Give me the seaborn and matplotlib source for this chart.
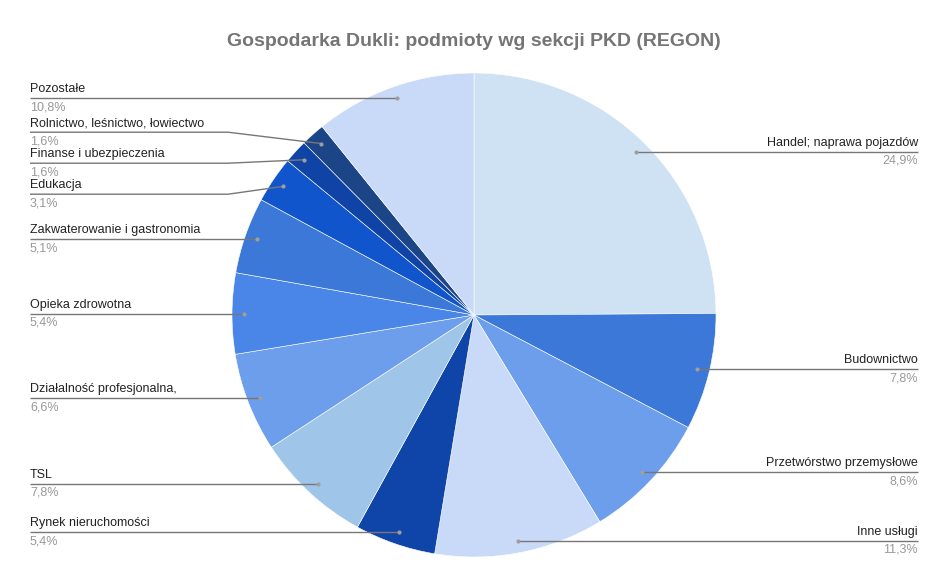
import numpy as np
import matplotlib
matplotlib.use("Agg")
import matplotlib.pyplot as plt
import seaborn as sns

# DATA
sections = [
    "Handel; naprawa pojazdów",
    "Budownictwo",
    "Przetwórstwo przemysłowe",
    "Inne usługi",
    "Rynek nieruchomości",
    "TSL",
    "Działalność profesjonalna,",
    "Opieka zdrowotna",
    "Zakwaterowanie i gastronomia",
    "Edukacja",
    "Finanse i ubezpieczenia",
    "Rolnictwo, leśnictwo, łowiectwo",
    "Pozostałe",
]
shares = [24.9, 7.8, 8.6, 11.3, 5.4, 7.8, 6.6, 5.4, 5.1, 3.1, 1.6, 1.6, 10.8]
colors = [
    "#cfe2f3", "#3c78d8", "#6d9eeb", "#c9daf8", "#0f45a8", "#9fc5e8",
    "#6d9eeb", "#4a86e8", "#3c78d8", "#1155cc", "#0f44a6", "#1c4587", "#c9daf8",
]
title = "Gospodarka Dukli: podmioty wg sekcji PKD (REGON)"

# STYLE
sns.set_style("white")
plt.rcParams["font.family"] = ["Liberation Sans", "DejaVu Sans"]

W, H = 948, 587
fig = plt.figure(figsize=(W / 100, H / 100), dpi=100)
ax = fig.add_axes([0, 0, 1, 1])
ax.set_xlim(0, W)
ax.set_ylim(0, H)
ax.axis("off")

cx, cy, r = 474, H - 315, 242
wedges, _ = ax.pie(
    shares,
    colors=colors,
    startangle=90,
    counterclock=False,
    radius=r,
    center=(cx, cy),
    wedgeprops=dict(edgecolor="white", linewidth=0.4),
    frame=True,
)
ax.set_xlim(0, W)
ax.set_ylim(0, H)
ax.set_aspect("equal")
ax.axis("off")

# anchor points on mid angle of each wedge
anchors = []
for w in wedges:
    mid = np.deg2rad((w.theta1 + w.theta2) / 2)
    anchors.append((cx + 0.95 * r * np.cos(mid), cy + 0.95 * r * np.sin(mid)))


def spread(ys, gap=31, iters=200):
    # push label rows apart (ys sorted top->bottom in data coords = descending)
    ys = list(ys)
    for _ in range(iters):
        moved = False
        for i in range(len(ys) - 1):
            d = ys[i] - ys[i + 1]
            if d < gap:
                shift = (gap - d) / 2
                ys[i] += shift
                ys[i + 1] -= shift
                moved = True
        if not moved:
            break
    return ys


label_y = {}
for side in ("left", "right"):
    idx = [i for i, (x, _) in enumerate(anchors) if (x < cx) == (side == "left")]
    idx.sort(key=lambda i: -anchors[i][1])
    ys = spread([anchors[i][1] for i in idx])
    for i, y in zip(idx, ys):
        label_y[i] = y

line_col = "#777777"
for i, (name, val) in enumerate(zip(sections, shares)):
    ax_x, ax_y = anchors[i]
    ly = label_y[i]
    left = ax_x < cx
    tx = 30 if left else W - 30
    elbow = 228 if left else W - 228
    if abs(ly - ax_y) < 1:
        xs, ys = [tx, ax_x], [ly, ly]
    else:
        xs, ys = [tx, elbow, ax_x], [ly, ly, ax_y]
    ax.plot(xs, ys, color=line_col, lw=1, solid_capstyle="butt", zorder=3)
    ax.scatter([ax_x], [ax_y], s=9, color="#9e9e9e", zorder=4, linewidths=0)
    ha = "left" if left else "right"
    ax.text(tx, ly + 3, name, ha=ha, va="bottom", fontsize=9, color="#222222")
    ax.text(tx, ly - 3, f"{val:.1f}".replace(".", ",") + "%", ha=ha, va="top",
            fontsize=9, color="#999999")

ax.text(W / 2, H - 42, title, ha="center", va="center", fontsize=14,
        fontweight="bold", color="#757575")

fig.savefig("out.png", dpi=100)
